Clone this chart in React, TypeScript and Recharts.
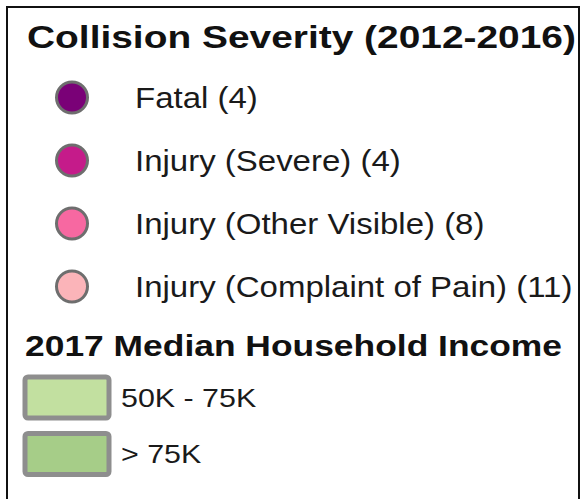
import React from 'react';
import { BarChart, Bar, XAxis, YAxis, Cell, LabelList } from 'recharts';

const severityTitle = 'Collision Severity (2012-2016)';
const severityCategories = ['Fatal', 'Injury (Severe)', 'Injury (Other Visible)', 'Injury (Complaint of Pain)'];
const severityCounts = [4, 4, 8, 11];
const severityColors = ['#7a0177', '#c51b8a', '#f768a1', '#fbb4b9'];

const incomeTitle = '2017 Median Household Income';
const incomeCategories = ['50K - 75K', '> 75K'];
const incomeValues = [1, 1];
const incomeColors = ['#c2e0a0', '#a6cd88'];

const severityData = severityCategories.map((c, i) => ({ label: c, count: severityCounts[i], text: `${c} (${severityCounts[i]})` }));
const incomeData = incomeCategories.map((c, i) => ({ label: c, value: incomeValues[i] }));

const FONT = '"Liberation Sans", Arial, sans-serif';

const CircleShape = (props: any) => {
  const { x, y, height, fill } = props;
  const r = 15.5;
  return <circle cx={x + r + 1.5} cy={y + height / 2} r={r} fill={fill} stroke="#6e6e6e" strokeWidth={3} />;
};

const SwatchShape = (props: any) => {
  const { x, y, height, fill } = props;
  return <rect x={x} y={y} width={84} height={height} rx={3} ry={3} fill={fill} stroke="#8e8e8e" strokeWidth={5} />;
};

const severityLabel = (props: any) => {
  const { y, height, index } = props;
  return (
    <text transform={`translate(135 ${y + height / 2 + 10.5}) scale(1.1 1)`} x={0} y={0} fontFamily={FONT} fontSize={30} fill="#1a1a1a">
      {severityData[index].text}
    </text>
  );
};

const incomeLabel = (props: any) => {
  const { y, height, index } = props;
  return (
    <text transform={`translate(121 ${y + height / 2 + 9}) scale(1.17 1)`} x={0} y={0} fontFamily={FONT} fontSize={26} fill="#1a1a1a">
      {incomeData[index].label}
    </text>
  );
};

export default function App() {
  return (
    <div style={{ position: 'absolute', left: 0, top: 0, width: 581, height: 499, background: '#fff', overflow: 'hidden' }}>
      <div style={{ position: 'absolute', left: 6, top: 6, width: 570, height: 520, border: '2px solid #111' }} />
      <div style={{ position: 'absolute', left: 27, top: 19, fontFamily: FONT, fontWeight: 'bold', fontSize: 32, lineHeight: '37px', color: '#111', whiteSpace: 'nowrap', transform: 'scaleX(1.215)', transformOrigin: 'left center' }}>
        {severityTitle}
      </div>
      <div style={{ position: 'absolute', left: 0, top: 66 }}>
        <BarChart width={581} height={252} data={severityData} layout="vertical" margin={{ top: 0, right: 0, bottom: 0, left: 55 }} barCategoryGap={10}>
          <XAxis type="number" hide domain={[0, 12]} />
          <YAxis type="category" dataKey="label" hide />
          <Bar dataKey="count" isAnimationActive={false} shape={<CircleShape />}>
            {severityData.map((d, i) => <Cell key={d.label} fill={severityColors[i]} />)}
            <LabelList dataKey="text" content={severityLabel} />
          </Bar>
        </BarChart>
      </div>
      <div style={{ position: 'absolute', left: 25, top: 328, fontFamily: FONT, fontWeight: 'bold', fontSize: 30, lineHeight: '35px', color: '#111', whiteSpace: 'nowrap', transform: 'scaleX(1.18)', transformOrigin: 'left center' }}>
        {incomeTitle}
      </div>
      <div style={{ position: 'absolute', left: 0, top: 369 }}>
        <BarChart width={581} height={113} data={incomeData} layout="vertical" margin={{ top: 0, right: 0, bottom: 0, left: 25 }} barCategoryGap={8}>
          <XAxis type="number" hide domain={[0, 1]} />
          <YAxis type="category" dataKey="label" hide />
          <Bar dataKey="value" isAnimationActive={false} shape={<SwatchShape />}>
            {incomeData.map((d, i) => <Cell key={d.label} fill={incomeColors[i]} />)}
            <LabelList dataKey="label" content={incomeLabel} />
          </Bar>
        </BarChart>
      </div>
    </div>
  );
}
